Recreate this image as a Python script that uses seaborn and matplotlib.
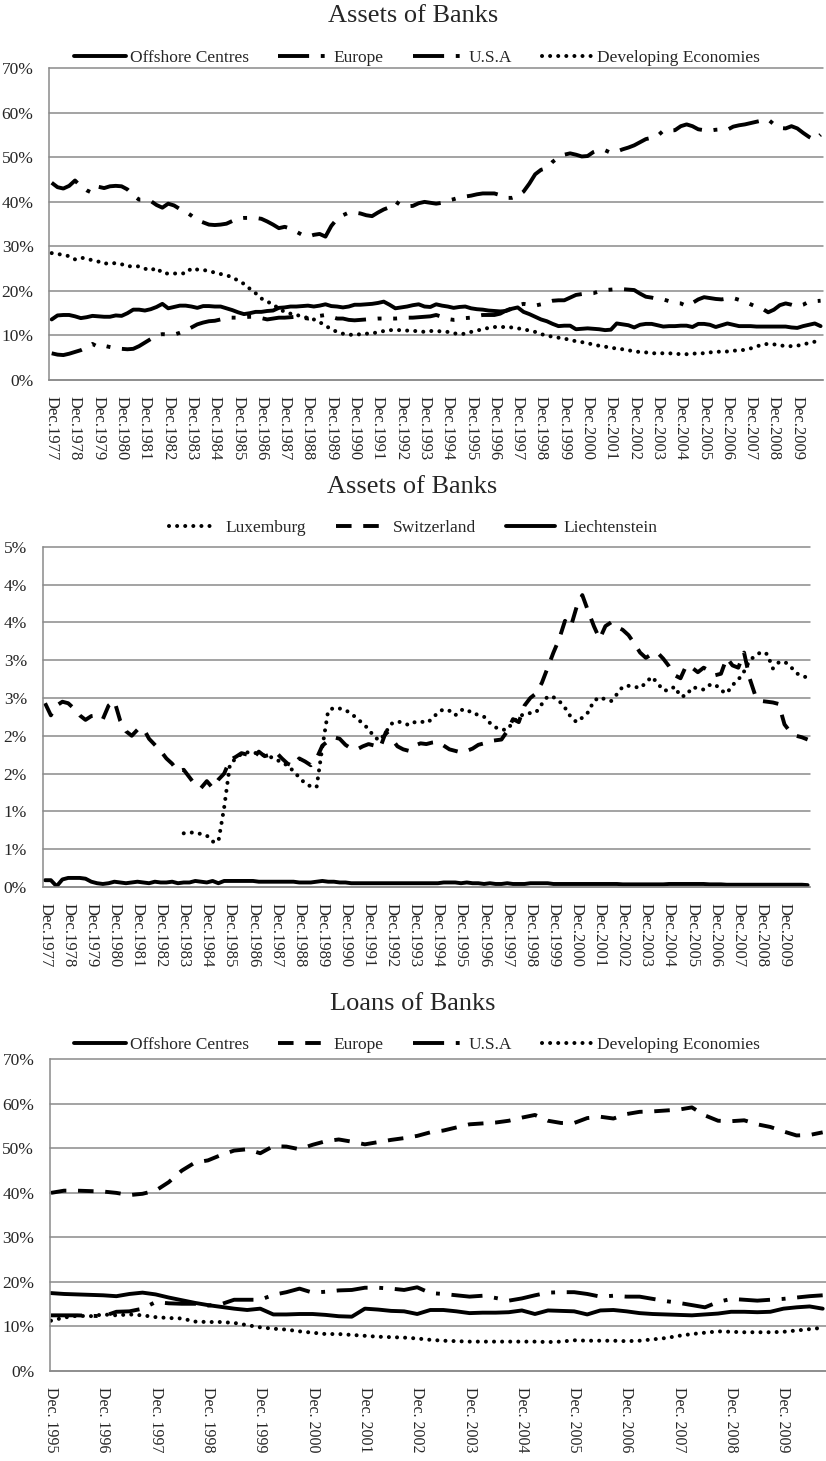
import numpy as np
import pandas as pd
import matplotlib
matplotlib.use("Agg")
import matplotlib.pyplot as plt
from matplotlib.lines import Line2D
import seaborn as sns

# ---------------- data (percent shares) ----------------
# quarterly categories: Dec 1977 .. Dec 2010 (assets) and Dec 1995 .. Sep 2010 (loans)
QUARTERS_ASSETS = pd.period_range("1977Q4", "2010Q4", freq="Q")
QUARTERS_LOANS = pd.period_range("1995Q4", "2010Q3", freq="Q")

ASSET_LABEL_YEARS = list(range(1977, 2010))
LOAN_LABEL_YEARS = list(range(1995, 2010))
ASSET_XLABELS = [f"Dec.{y}" for y in ASSET_LABEL_YEARS]
LOAN_XLABELS = [f"Dec. {y}" for y in LOAN_LABEL_YEARS]

P1_YTICKS = [0, 10, 20, 30, 40, 50, 60, 70]
P1_YTICKLABELS = ["0%", "10%", "20%", "30%", "40%", "50%", "60%", "70%"]
P2_YTICKS = [0, 0.5, 1.0, 1.5, 2.0, 2.5, 3.0, 3.5, 4.0, 4.5]
P2_YTICKLABELS = ["0%", "1%", "1%", "2%", "2%", "3%", "3%", "4%", "4%", "5%"]

OFFSHORE_A = [
    13.6, 14.5, 14.6, 14.6, 14.3, 13.9, 14.1, 14.4, 14.3, 14.2,
    14.2, 14.5, 14.4, 15.0, 15.8, 15.8, 15.6, 15.9, 16.4, 17.1,
    16.1, 16.4, 16.7, 16.7, 16.5, 16.2, 16.6, 16.6, 16.5, 16.5,
    16.1, 15.7, 15.2, 14.8, 15.0, 15.3, 15.3, 15.5, 15.6, 16.2,
    16.3, 16.5, 16.5, 16.6, 16.7, 16.5, 16.7, 17.0, 16.6, 16.5,
    16.3, 16.5, 16.9, 16.9, 17.0, 17.1, 17.3, 17.6, 16.9, 16.1,
    16.3, 16.5, 16.8, 17.0, 16.5, 16.4, 17.0, 16.7, 16.5, 16.2,
    16.4, 16.5, 16.1, 15.9, 15.8, 15.6, 15.5, 15.4, 15.5, 16.0,
    16.3, 15.3, 14.8, 14.2, 13.6, 13.2, 12.6, 12.1, 12.2, 12.2,
    11.4, 11.5, 11.6, 11.5, 11.4, 11.2, 11.3, 12.7, 12.5, 12.3,
    11.8, 12.4, 12.6, 12.6, 12.3, 12.0, 12.1, 12.1, 12.2, 12.2,
    11.9, 12.6, 12.6, 12.4, 11.9, 12.3, 12.7, 12.4, 12.1, 12.1,
    12.1, 12.0, 12.0, 12.0, 12.0, 12.0, 12.0, 11.8, 11.7, 12.1,
    12.4, 12.7, 12.1]
EUROPE_A = [
    44.3, 43.3, 43.0, 43.6, 44.8, 43.5, 42.6, 42.0, 43.4, 43.1,
    43.5, 43.6, 43.5, 42.8, 41.5, 40.5, 40.5, 40.2, 39.3, 38.7,
    39.6, 39.2, 38.4, 37.8, 36.9, 35.9, 35.4, 34.9, 34.8, 34.9,
    35.1, 35.7, 36.3, 36.4, 36.4, 36.4, 36.2, 35.6, 34.9, 34.1,
    34.4, 34.0, 33.3, 32.6, 32.2, 32.6, 32.8, 32.2, 34.6, 36.2,
    37.0, 37.6, 37.6, 37.4, 37.0, 36.8, 37.6, 38.3, 38.8, 40.1,
    39.2, 39.0, 39.1, 39.7, 40.0, 39.8, 39.6, 39.8, 40.3, 40.6,
    41.0, 41.2, 41.4, 41.7, 41.9, 41.9, 41.9, 41.5, 40.9, 40.9,
    41.3, 42.3, 44.1, 46.2, 47.2, 47.6, 49.0, 50.0, 50.6, 50.9,
    50.6, 50.2, 50.3, 51.2, 51.7, 51.6, 51.0, 51.3, 51.8, 52.2,
    52.7, 53.4, 54.1, 54.4, 54.8, 56.0, 56.0, 56.1, 57.0, 57.4,
    57.0, 56.3, 56.1, 56.0, 56.2, 56.3, 56.2, 56.9, 57.2, 57.4,
    57.7, 58.0, 58.3, 58.5, 57.4, 56.6, 56.5, 57.0, 56.5, 55.5,
    54.6, 53.9, 55.1]
USA_A = [
    6.0, 5.7, 5.6, 5.9, 6.3, 6.7, 7.3, 8.1, 7.4, 7.7,
    7.4, 7.1, 7.0, 6.9, 7.0, 7.6, 8.4, 9.2, 10.0, 10.3,
    10.2, 10.2, 10.6, 11.1, 11.8, 12.5, 12.9, 13.2, 13.3, 13.6,
    14.0, 14.0, 14.0, 14.1, 14.2, 14.2, 13.9, 13.6, 13.8, 14.0,
    14.0, 14.1, 14.2, 14.0, 13.8, 14.0, 14.4, 14.6, 14.2, 13.8,
    13.8, 13.5, 13.4, 13.5, 13.6, 13.7, 13.8, 13.8, 13.8, 13.8,
    13.9, 14.0, 14.0, 14.1, 14.2, 14.3, 14.6, 14.2, 13.7, 13.5,
    13.6, 13.9, 14.0, 14.4, 14.6, 14.6, 14.6, 14.9, 15.6, 16.1,
    16.8, 17.1, 16.9, 16.7, 17.0, 17.5, 17.8, 17.9, 17.9, 18.5,
    19.1, 19.3, 19.4, 19.5, 19.9, 20.2, 20.3, 20.4, 20.4, 20.3,
    20.2, 19.4, 18.7, 18.5, 18.2, 18.1, 17.7, 17.3, 17.2, 16.6,
    17.3, 18.1, 18.6, 18.4, 18.2, 18.1, 18.3, 18.4, 18.0, 17.6,
    17.0, 16.4, 16.0, 15.2, 15.8, 16.8, 17.2, 16.9, 16.5, 16.9,
    17.6, 17.7, 17.8]
DEVELOPING_A = [
    28.5, 28.3, 28.1, 27.8, 27.1, 27.5, 27.2, 26.9, 26.6, 26.1,
    26.3, 26.2, 26.0, 25.5, 25.6, 25.5, 25.0, 24.6, 25.2, 24.0,
    23.9, 23.9, 24.0, 23.9, 25.1, 24.8, 24.7, 24.5, 24.1, 23.8,
    23.5, 23.1, 22.3, 21.6, 20.5, 19.5, 18.3, 17.6, 17.0, 16.0,
    15.3, 14.9, 14.6, 14.3, 13.9, 13.6, 13.0, 12.2, 11.4, 10.8,
    10.4, 10.2, 10.1, 10.3, 10.4, 10.5, 10.7, 11.0, 11.2, 11.2,
    11.2, 11.1, 11.0, 11.0, 10.8, 11.0, 11.0, 10.9, 10.8, 10.5,
    10.3, 10.4, 10.8, 11.1, 11.4, 11.7, 11.9, 11.9, 11.9, 11.8,
    11.6, 11.4, 11.1, 10.8, 10.3, 10.0, 9.7, 9.5, 9.3, 9.0,
    8.7, 8.5, 8.3, 7.9, 7.7, 7.5, 7.2, 7.1, 6.9, 6.7,
    6.4, 6.3, 6.2, 6.0, 6.0, 6.0, 6.0, 5.9, 5.8, 5.8,
    5.9, 6.0, 6.0, 6.2, 6.3, 6.4, 6.4, 6.6, 6.6, 6.8,
    7.1, 7.5, 8.0, 8.1, 8.0, 7.8, 7.6, 7.6, 7.7, 8.0,
    8.3, 8.6, 8.9]

LUXEMBURG = [None] * 24 + [
    0.71, 0.72, 0.72, 0.70, 0.68, 0.60,
    0.60, 1.05, 1.62, 1.70, 1.76, 1.78, 1.78, 1.76, 1.74, 1.72,
    1.69, 1.64, 1.61, 1.53, 1.45, 1.37, 1.33, 1.32, 1.85, 2.33,
    2.37, 2.36, 2.34, 2.29, 2.23, 2.16, 2.09, 1.98, 1.94, 2.05,
    2.16, 2.19, 2.17, 2.14, 2.18, 2.19, 2.17, 2.22, 2.31, 2.35,
    2.33, 2.27, 2.34, 2.35, 2.29, 2.28, 2.25, 2.17, 2.11, 2.08,
    2.08, 2.18, 2.25, 2.29, 2.30, 2.31, 2.42, 2.52, 2.51, 2.46,
    2.37, 2.25, 2.18, 2.24, 2.31, 2.46, 2.51, 2.48, 2.46, 2.55,
    2.65, 2.66, 2.65, 2.63, 2.70, 2.78, 2.70, 2.60, 2.60, 2.65,
    2.52, 2.53, 2.64, 2.63, 2.61, 2.67, 2.68, 2.60, 2.56, 2.67,
    2.74, 2.85, 3.00, 3.06, 3.11, 3.08, 2.89, 2.97, 2.98, 2.92,
    2.83, 2.79, 2.77]
SWITZERLAND = [
    2.43, 2.27, 2.40, 2.45, 2.43, 2.36, 2.27, 2.21, 2.26, 2.27,
    2.22, 2.40, 2.46, 2.20, 2.06, 2.00, 2.08, 2.10, 1.96, 1.88,
    1.80, 1.70, 1.63, 1.53, 1.55, 1.45, 1.35, 1.31, 1.40, 1.31,
    1.42, 1.50, 1.68, 1.72, 1.77, 1.75, 1.70, 1.79, 1.73, 1.75,
    1.78, 1.70, 1.63, 1.60, 1.70, 1.66, 1.61, 1.70, 1.87, 1.93,
    1.98, 1.96, 1.88, 1.83, 1.82, 1.86, 1.89, 1.87, 1.84, 2.05,
    1.96, 1.86, 1.82, 1.80, 1.87, 1.90, 1.89, 1.91, 1.92, 1.87,
    1.82, 1.80, 1.78, 1.80, 1.83, 1.88, 1.90, 1.93, 1.94, 1.95,
    2.06, 2.22, 2.18, 2.40, 2.50, 2.56, 2.70, 2.90, 3.10, 3.28,
    3.52, 3.44, 3.70, 3.86, 3.65, 3.45, 3.28, 3.45, 3.50, 3.44,
    3.40, 3.33, 3.22, 3.10, 3.03, 3.08, 3.10, 3.02, 2.92, 2.80,
    2.76, 2.93, 2.90, 2.84, 2.90, 2.86, 2.80, 2.82, 3.03, 2.93,
    2.90, 3.10, 2.75, 2.52, 2.46, 2.45, 2.44, 2.42, 2.15, 2.05,
    2.00, 1.98, 1.95]
LIECHTENSTEIN = [
    0.09, 0.09, 0.01, 0.10, 0.12, 0.12, 0.12, 0.11, 0.07, 0.05,
    0.04, 0.05, 0.07, 0.06, 0.05, 0.06, 0.07, 0.06, 0.05, 0.07,
    0.06, 0.06, 0.07, 0.05, 0.06, 0.06, 0.08, 0.07, 0.06, 0.08,
    0.05, 0.08, 0.08, 0.08, 0.08, 0.08, 0.08, 0.07, 0.07, 0.07,
    0.07, 0.07, 0.07, 0.07, 0.06, 0.06, 0.06, 0.07, 0.08, 0.07,
    0.07, 0.06, 0.06, 0.05, 0.05, 0.05, 0.05, 0.05, 0.05, 0.05,
    0.05, 0.05, 0.05, 0.05, 0.05, 0.05, 0.05, 0.05, 0.05, 0.06,
    0.06, 0.06, 0.05, 0.06, 0.05, 0.05, 0.04, 0.05, 0.04, 0.04,
    0.05, 0.04, 0.04, 0.04, 0.05, 0.05, 0.05, 0.05, 0.04, 0.04,
    0.04, 0.04, 0.04, 0.04, 0.04, 0.04, 0.04, 0.04, 0.04, 0.04,
    0.035, 0.035, 0.035, 0.035, 0.035, 0.035, 0.035, 0.035, 0.04, 0.04,
    0.04, 0.04, 0.04, 0.04, 0.04, 0.035, 0.035, 0.035, 0.03, 0.03,
    0.03, 0.03, 0.03, 0.03, 0.03, 0.03, 0.03, 0.03, 0.03, 0.03,
    0.03, 0.03, 0.025]

OFFSHORE_L = [
    17.5, 17.3, 17.2, 17.1, 17.0, 16.8, 17.3, 17.6, 17.2, 16.5,
    15.9, 15.3, 14.8, 14.4, 14.0, 13.7, 14.0, 12.7, 12.7, 12.8,
    12.8, 12.6, 12.3, 12.2, 14.0, 13.8, 13.5, 13.4, 12.8, 13.7,
    13.7, 13.4, 13.0, 13.1, 13.1, 13.2, 13.6, 12.8, 13.6, 13.5,
    13.4, 12.7, 13.6, 13.7, 13.4, 13.0, 12.8, 12.7, 12.6, 12.5,
    12.7, 12.9, 13.3, 13.3, 13.2, 13.3, 14.0, 14.3, 14.5, 14.0]
EUROPE_L = [
    40.0, 40.5, 40.5, 40.4, 40.3, 40.0, 39.5, 39.8, 40.5, 42.4,
    45.0, 46.8, 47.3, 48.5, 49.5, 49.8, 48.9, 50.5, 50.4, 49.8,
    50.8, 51.6, 52.0, 51.5, 50.9, 51.4, 51.9, 52.3, 52.8, 53.6,
    54.0, 54.7, 55.4, 55.6, 55.8, 56.2, 56.9, 57.5, 56.2, 55.7,
    55.7, 56.8, 57.1, 56.7, 57.7, 58.2, 58.3, 58.5, 58.7, 59.2,
    57.4, 56.2, 56.1, 56.3, 55.4, 54.8, 53.8, 52.9, 53.0, 53.6]
USA_L = [
    12.5, 12.5, 12.5, 12.4, 12.3, 13.3, 13.4, 14.0, 15.5, 15.2,
    15.1, 15.1, 14.7, 15.0, 16.0, 16.0, 16.0, 17.1, 17.7, 18.5,
    17.6, 17.8, 18.1, 18.2, 18.7, 18.7, 18.5, 18.2, 18.8, 17.5,
    17.3, 17.0, 16.7, 16.9, 16.4, 15.8, 16.3, 17.0, 17.6, 17.7,
    17.7, 17.3, 16.7, 16.9, 16.7, 16.7, 16.2, 15.7, 15.3, 14.8,
    14.3, 15.5, 16.2, 16.0, 15.8, 16.0, 16.2, 16.5, 16.8, 17.0]
DEVELOPING_L = [
    11.3, 12.0, 12.4, 12.3, 12.7, 12.5, 12.7, 12.5, 12.1, 11.9,
    11.8, 11.1, 11.0, 11.0, 10.8, 10.3, 9.8, 9.5, 9.3, 8.9,
    8.6, 8.3, 8.3, 8.1, 7.9, 7.7, 7.6, 7.5, 7.3, 7.0,
    6.8, 6.7, 6.6, 6.6, 6.6, 6.6, 6.6, 6.6, 6.5, 6.6,
    6.9, 6.8, 6.8, 6.8, 6.7, 6.8, 7.1, 7.4, 7.9, 8.3,
    8.6, 8.9, 8.8, 8.7, 8.7, 8.7, 8.8, 9.1, 9.4, 9.7]

# ---------------- styling ----------------
W, H = 826, 1461
sns.set_style("white")
plt.rcParams["font.family"] = ["Liberation Serif", "DejaVu Serif"]

GRID = "#8a8a8a"
LW = 2.8
SOLID = dict(linestyle="-", linewidth=LW)
DOTS = dict(linestyle=(0, (0.01, 2.0)), dash_capstyle="round", linewidth=2.9)
DASH = dict(linestyle=(0, (4, 3)), dash_capstyle="butt", linewidth=LW)
LDASH_DOT = dict(linestyle=(0, (8, 3, 1, 3)), dash_capstyle="butt", linewidth=LW)
LDASH_DOT_DOT = dict(linestyle=(0, (8, 3, 1, 3, 1, 3)), dash_capstyle="butt", linewidth=LW)


def qpos(periods):
    return np.asarray(periods.year + (periods.quarter * 3 - 1) / 12.0, dtype=float)


def px_axes(fig, left, top, right, bottom):
    return fig.add_axes([left / W, 1 - bottom / H, (right - left) / W, (bottom - top) / H])


def draw_series(ax, x, series):
    for name, vals, style in series:
        df = pd.DataFrame({"x": x, "y": pd.to_numeric(pd.Series(vals), errors="coerce")}).dropna()
        sns.lineplot(data=df, x="x", y="y", ax=ax, color="black",
                     estimator=None, errorbar=None, legend=False,
                     solid_joinstyle="round", dash_joinstyle="round", **style)


def style_axes(ax, yticks, yticklabels, ylim, xlim, major_x, xlabels, minor_x, xfs):
    ax.set_xlim(*xlim)
    ax.set_ylim(*ylim)
    ax.set_yticks(yticks)
    ax.set_yticklabels(yticklabels)
    ax.set_xticks(major_x)
    ax.set_xticklabels(xlabels, rotation=-90, ha="center", va="top")
    ax.set_xticks(minor_x, minor=True)
    ax.set_xlabel("")
    ax.set_ylabel("")
    ax.yaxis.grid(True, color=GRID, linewidth=1.1)
    ax.xaxis.grid(False)
    ax.set_axisbelow(True)
    for gl in ax.get_ygridlines():
        gl.set_clip_on(False)
    for s in ["top", "right"]:
        ax.spines[s].set_visible(False)
    for s in ["left", "bottom"]:
        ax.spines[s].set_color(GRID)
        ax.spines[s].set_linewidth(1.1)
    ax.tick_params(axis="both", which="both", direction="out", length=2.3, width=0.8, color=GRID)
    ax.tick_params(axis="y", labelsize=12.5, pad=9)
    ax.tick_params(axis="x", labelsize=xfs, pad=9)


def add_legend(ax, fig, entries, cx, cy, hl=3.0, htp=0.2, cs=1.9):
    handles = [Line2D([], [], color="black", **st) for _, st in entries]
    labels = [n for n, _ in entries]
    ax.legend(handles, labels, loc="center", bbox_to_anchor=(cx / W, 1 - cy / H),
              bbox_transform=fig.transFigure, ncol=len(entries), frameon=False,
              fontsize=12.5, handlelength=hl, handletextpad=htp, columnspacing=cs,
              borderpad=0, borderaxespad=0)


fig = plt.figure(figsize=(W / 100, H / 100), dpi=100)
fig.patch.set_facecolor("white")

xa = qpos(QUARTERS_ASSETS)
xl = qpos(QUARTERS_LOANS)
a_major = [y + 11 / 12 for y in ASSET_LABEL_YEARS]
l_major = [y + 11 / 12 for y in LOAN_LABEL_YEARS]
a_xlim = (1977.814, 2011.02)
a_minor = np.arange(1977 + 11 / 12 - 1 / 12, a_xlim[1] + 1e-6, 1 / 6)
l_xlim = (1995.917 - 0.019, 2010.73)

# ---- panel 1: Assets of Banks (regions) ----
ax1 = px_axes(fig, 49.3, 68.3, 823, 380)
draw_series(ax1, xa, [
    ("Developing Economies", DEVELOPING_A, DOTS),
    ("U.S.A", USA_A, LDASH_DOT_DOT),
    ("Europe", EUROPE_A, LDASH_DOT),
    ("Offshore Centres", OFFSHORE_A, SOLID),
])
style_axes(ax1, P1_YTICKS, P1_YTICKLABELS, (0, 70), a_xlim, a_major, ASSET_XLABELS, a_minor, 12)
add_legend(ax1, fig, [("Offshore Centres", SOLID), ("Europe", LDASH_DOT),
                      ("U.S.A", LDASH_DOT_DOT), ("Developing Economies", DOTS)], 417, 57.5,
           cs=1.7)
fig.text(413 / W, 1 - 22.5 / H, "Assets of Banks", ha="center", va="baseline", fontsize=19)

# ---- panel 2: Assets of Banks (financial centres) ----
ax2 = px_axes(fig, 42.7, 546.7, 810, 887)
draw_series(ax2, xa, [
    ("Luxemburg", LUXEMBURG, DOTS),
    ("Switzerland", SWITZERLAND, DASH),
    ("Liechtenstein", LIECHTENSTEIN, SOLID),
])
style_axes(ax2, P2_YTICKS, P2_YTICKLABELS, (0, 4.5), a_xlim, a_major, ASSET_XLABELS, a_minor, 12)
add_legend(ax2, fig, [("Luxemburg", DOTS), ("Switzerland", DASH), ("Liechtenstein", SOLID)],
           413, 528, hl=2.8, htp=0.5, cs=1.7)
fig.text(412 / W, 1 - 493 / H, "Assets of Banks", ha="center", va="baseline", fontsize=19)

# ---- panel 3: Loans of Banks ----
ax3 = px_axes(fig, 50, 1059.3, 826, 1371)
draw_series(ax3, xl, [
    ("Developing Economies", DEVELOPING_L, DOTS),
    ("U.S.A", USA_L, LDASH_DOT),
    ("Europe", EUROPE_L, DASH),
    ("Offshore Centres", OFFSHORE_L, SOLID),
])
style_axes(ax3, P1_YTICKS, P1_YTICKLABELS, (0, 70), l_xlim, l_major, LOAN_XLABELS, xl, 11.5)
add_legend(ax3, fig, [("Offshore Centres", SOLID), ("Europe", DASH),
                      ("U.S.A", LDASH_DOT), ("Developing Economies", DOTS)], 417, 1045,
           cs=1.7)
fig.text(413 / W, 1 - 1010 / H, "Loans of Banks", ha="center", va="baseline", fontsize=19)

fig.savefig("out.png", dpi=100, facecolor="white")
